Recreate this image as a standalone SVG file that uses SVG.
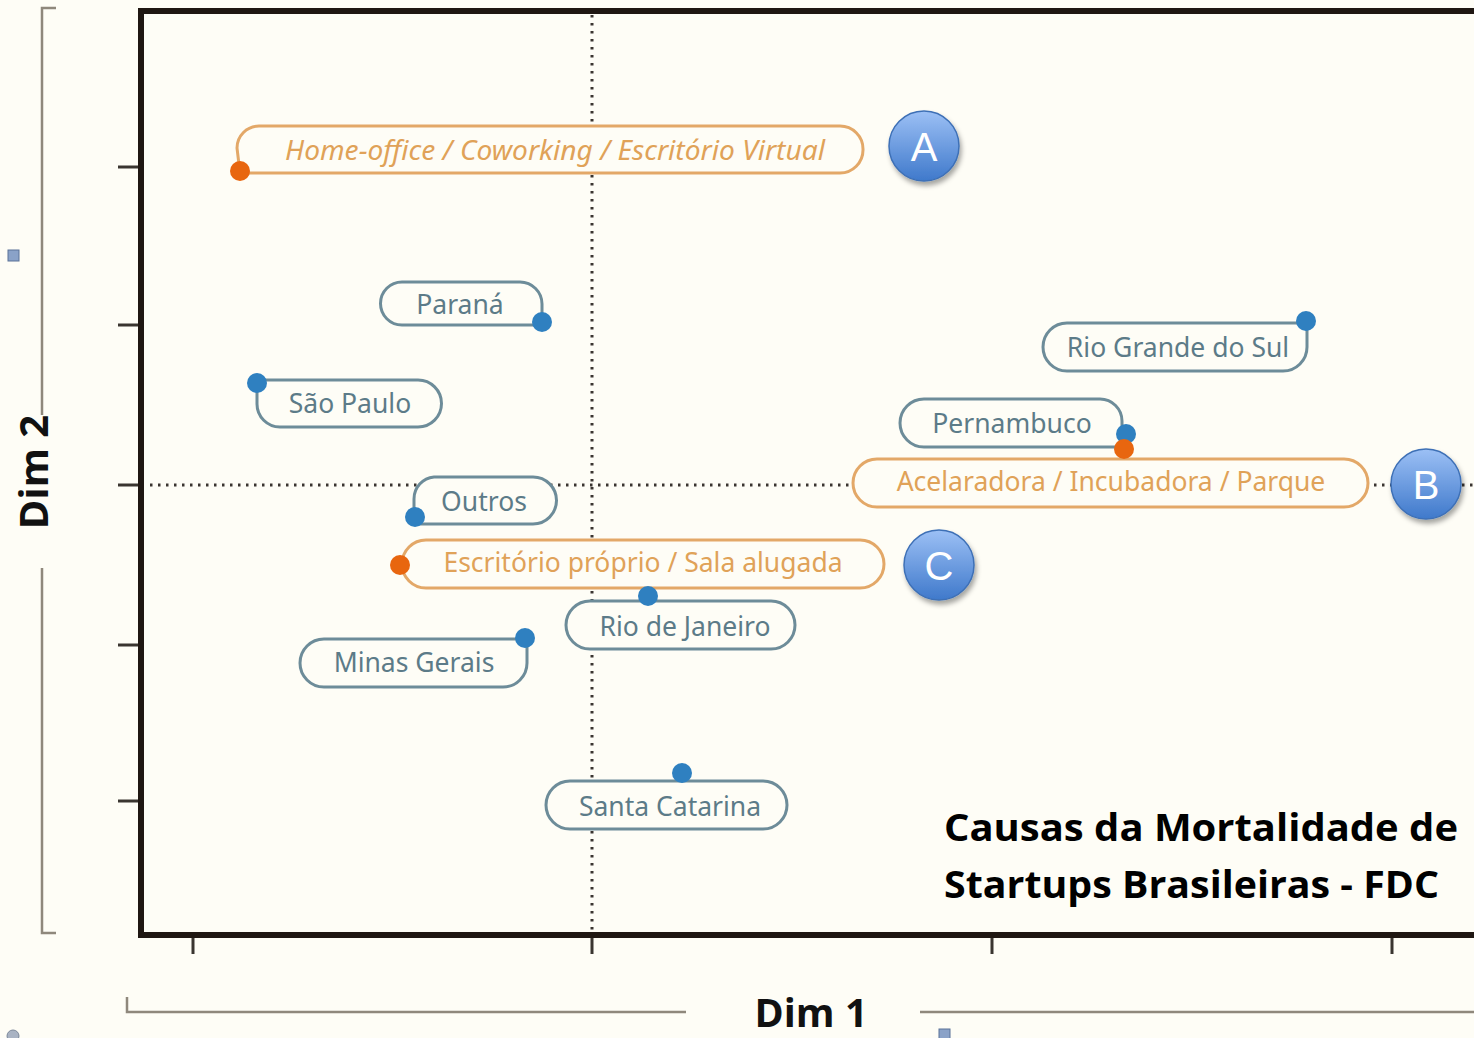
<svg xmlns="http://www.w3.org/2000/svg" width="1474" height="1038" viewBox="0 0 1474 1038">
<style>
.frame{stroke:#1f1712;stroke-width:6;fill:none}
.tick{stroke:#3a3530;stroke-width:3}
.bracket{stroke:#8f887c;stroke-width:2.5;fill:none}
.dots{stroke:#3a3530;stroke-width:3;stroke-dasharray:2.5 5.5;fill:none}
.pb{fill:#fefdf6;stroke:#6d8c99;stroke-width:3}
.po{fill:#fefdf6;stroke:#e3a868;stroke-width:3}
.tb{font-family:"Noto Sans","Open Sans",sans-serif;font-size:26.5px;fill:#5c7b88;text-anchor:middle}
.to{font-family:"Noto Sans","Open Sans",sans-serif;font-size:26.5px;fill:#e0a258;text-anchor:middle}
.db{fill:#2f80c0}
.do{fill:#e8660f}
.circ{fill:url(#cg);stroke:#3e70b6;stroke-width:1.5;filter:url(#sh)}
.cl{font-family:"Liberation Sans",Arial,sans-serif;font-size:40px;fill:#ffffff;text-anchor:middle}
.title{font-family:"Open Sans","Liberation Sans",sans-serif;font-weight:bold;font-size:38px;fill:#000}
.dim{font-family:"Open Sans","Liberation Sans",sans-serif;font-weight:bold;font-size:40px;fill:#111}
</style>
<defs>
<linearGradient id="cg" x1="0" y1="0" x2="0" y2="1">
<stop offset="0" stop-color="#9cc0f5"/>
<stop offset="1" stop-color="#3f79cb"/>
</linearGradient>
<filter id="sh" x="-30%" y="-30%" width="160%" height="160%">
<feDropShadow dx="2" dy="4" stdDeviation="2.5" flood-color="#000" flood-opacity="0.35"/>
</filter>
</defs>
<rect x="0" y="0" width="1474" height="1038" fill="#fefdf6"/>

<g id="axes">
<path class="bracket" d="M56,8 H42 V415 M42,568 V933 H56"/>
<path class="bracket" d="M127,997 V1012 H686 M920,1012 H1474"/>
<rect x="8" y="250" width="11" height="11" fill="#8aa2c8" stroke="#5b7398" stroke-width="1"/>
<rect x="939" y="1029" width="11" height="11" fill="#8aa2c8" stroke="#5b7398" stroke-width="1"/>
<circle cx="13" cy="1036" r="6" fill="#a9b3c3" stroke="#7c889a" stroke-width="1"/>
<line class="tick" x1="118" y1="167" x2="141" y2="167"/>
<line class="tick" x1="118" y1="325" x2="141" y2="325"/>
<line class="tick" x1="118" y1="485" x2="141" y2="485"/>
<line class="tick" x1="118" y1="645" x2="141" y2="645"/>
<line class="tick" x1="118" y1="801" x2="141" y2="801"/>
<line class="tick" x1="193" y1="936" x2="193" y2="954"/>
<line class="tick" x1="592" y1="936" x2="592" y2="954"/>
<line class="tick" x1="992" y1="936" x2="992" y2="954"/>
<line class="tick" x1="1392" y1="936" x2="1392" y2="954"/>
<path class="frame" d="M1474,11 H141 V935 H1474"/>
<text class="dim" x="0" y="0" transform="translate(48,472) rotate(-90)" text-anchor="middle">Dim 2</text>
<text class="dim" x="811" y="1027" text-anchor="middle" textLength="113" lengthAdjust="spacingAndGlyphs">Dim 1</text>
</g>

<g id="connectors">
<line class="dots" x1="592" y1="15" x2="592" y2="932"/>
<line class="dots" x1="150" y1="485" x2="1474" y2="485"/>
</g>

<g id="home-office">
<path class="po" d="M259,126 H840 A23,23 0 0 1 863,149 V150 A23,23 0 0 1 840,173 H240 L237,148 A22,22 0 0 1 259,126 Z"/>
<circle class="do" cx="240" cy="171" r="10"/>
<text class="to" x="555" y="160" font-style="italic" textLength="540" lengthAdjust="spacingAndGlyphs">Home-office / Coworking / Escritório Virtual</text>
</g>

<g id="parana">
<path class="pb" d="M402,282 H520 A22,22 0 0 1 542,304 V325 H402 A21.5,21.5 0 0 1 402,282 Z"/>
<circle class="db" cx="542" cy="322" r="10"/>
<text class="tb" x="460" y="314">Paraná</text>
</g>

<g id="sao-paulo">
<path class="pb" d="M257,380 H418 A23.5,23.5 0 0 1 418,427 H280 A23,23 0 0 1 257,404 Z"/>
<circle class="db" cx="257" cy="383" r="10"/>
<text class="tb" x="350" y="413">São Paulo</text>
</g>

<g id="rio-grande-do-sul">
<path class="pb" d="M1067,323 H1307 V347 A24,24 0 0 1 1283,371 H1067 A24,24 0 0 1 1067,323 Z"/>
<circle class="db" cx="1306" cy="321" r="10"/>
<text class="tb" x="1178" y="357">Rio Grande do Sul</text>
</g>

<g id="pernambuco">
<path class="pb" d="M924,399 H1100 A22,22 0 0 1 1122,421 V447 H924 A24,24 0 0 1 924,399 Z"/>
<circle class="db" cx="1126" cy="434" r="10"/>
<text class="tb" x="1012" y="433">Pernambuco</text>
</g>

<g id="acelaradora">
<rect class="po" x="853" y="459" width="515" height="48" rx="24"/>
<circle class="do" cx="1124" cy="449" r="10"/>
<text class="to" x="1111" y="491">Acelaradora / Incubadora / Parque</text>
</g>

<g id="outros">
<path class="pb" d="M434,477 H533 A23.5,23.5 0 0 1 533,524 H414 V499 A22,22 0 0 1 434,477 Z"/>
<circle class="db" cx="415" cy="517" r="10"/>
<text class="tb" x="484" y="511">Outros</text>
</g>

<g id="escritorio">
<rect class="po" x="402" y="540" width="482" height="48" rx="24"/>
<circle class="do" cx="400" cy="565" r="10"/>
<text class="to" x="643" y="572">Escritório próprio / Sala alugada</text>
</g>

<g id="rio-de-janeiro">
<rect class="pb" x="566" y="601" width="229" height="48" rx="24"/>
<circle class="db" cx="648" cy="596" r="10"/>
<text class="tb" x="685" y="636">Rio de Janeiro</text>
</g>

<g id="minas-gerais">
<path class="pb" d="M324,639 H527 V663 A24,24 0 0 1 503,687 H324 A24,24 0 0 1 324,639 Z"/>
<circle class="db" cx="525" cy="638" r="10"/>
<text class="tb" x="414" y="672">Minas Gerais</text>
</g>

<g id="santa-catarina">
<rect class="pb" x="546" y="781" width="241" height="48" rx="24"/>
<circle class="db" cx="682" cy="773" r="10"/>
<text class="tb" x="670" y="816">Santa Catarina</text>
</g>

<g id="circle-a">
<circle class="circ" cx="924" cy="146" r="35"/>
<text class="cl" x="924" y="161">A</text>
</g>
<g id="circle-b">
<circle class="circ" cx="1426" cy="484" r="35"/>
<text class="cl" x="1426" y="499">B</text>
</g>
<g id="circle-c">
<circle class="circ" cx="939" cy="565" r="35"/>
<text class="cl" x="939" y="580">C</text>
</g>

<g id="title">
<text class="title" x="944" y="841" textLength="514" lengthAdjust="spacingAndGlyphs">Causas da Mortalidade de</text>
<text class="title" x="944" y="898" textLength="495" lengthAdjust="spacingAndGlyphs">Startups Brasileiras - FDC</text>
</g>
</svg>
